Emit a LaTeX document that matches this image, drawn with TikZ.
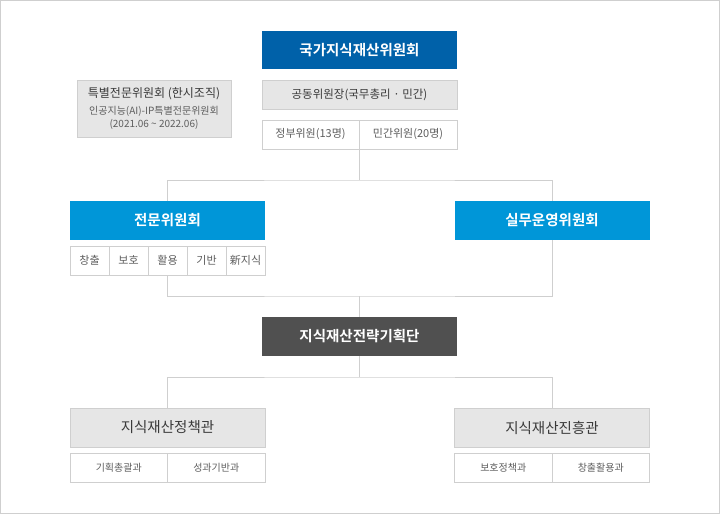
\documentclass[tikz,border=0pt]{standalone}
\usepackage{fontspec}
\setmainfont{Noto Sans CJK KR}[BoldFont={Noto Sans CJK KR Bold}]
\usetikzlibrary{positioning}
\definecolor{navy}{HTML}{0061A9}
\definecolor{sky}{HTML}{0096D8}
\definecolor{dgray}{HTML}{505050}
\definecolor{pale}{HTML}{E6E6E6}
\definecolor{rule}{HTML}{CFCFCF}
\definecolor{ink}{HTML}{3A3A3A}
\definecolor{soft}{HTML}{5E5E5E}

\begin{document}
\begin{tikzpicture}[x=1pt,y=-1pt,
    head/.style={rectangle,minimum width=195pt,minimum height=39pt,inner sep=0pt,outer sep=0pt,text=white,font=\bfseries\fontsize{14.5}{16}\selectfont},
    panel/.style={head,fill=pale,draw=rule,text=ink,font=\fontsize{14.5}{16}\selectfont},
    cell/.style={rectangle,draw=rule,fill=white,minimum height=29pt,inner sep=0pt,outer sep=0pt,text=soft,font=\fontsize{11}{12}\selectfont},
    link/.style={draw=rule,line width=0.8pt}]
  \useasboundingbox (0,0) rectangle (720,514);
  \draw[rule,line width=0.9pt] (0.5,0.5) rectangle (719.5,513.5);

  %top
  \node[head,fill=navy,minimum height=38pt] (nkc) at (359.5,50) {국가지식재산위원회};
  \node[panel,minimum height=29pt,font=\fontsize{11.5}{13}\selectfont] (chair) at (359.5,95) {공동위원장(국무총리 · 민간)};
  \node[cell,minimum width=97pt] (gov) at (310.5,134.5) {정부위원(13명)};
  \node[cell,minimum width=98pt,right=0pt of gov] (civ) {민간위원(20명)};
  \node[panel,minimum width=154pt,minimum height=57pt,align=center,text=soft,font=\fontsize{10}{13}\selectfont] (tf) at (154,108.5)
    {{\color{ink}\fontsize{12}{13}\selectfont 특별전문위원회 (한시조직)}\\[4pt]인공지능(AI)-IP특별전문위원회\\(2021.06 \textasciitilde{} 2022.06)};

  %committees
  \node[head,fill=sky] (expert) at (167.5,220.5) {전문위원회};
  \node[head,fill=sky] (work) at (552,220.5) {실무운영위원회};
  \node[cell,minimum width=39pt] (c1) at (89.5,260.5) {창출};
  \node[cell,minimum width=39pt,right=0pt of c1] (c2) {보호};
  \node[cell,minimum width=39pt,right=0pt of c2] (c3) {활용};
  \node[cell,minimum width=39pt,right=0pt of c3] (c4) {기반};
  \node[cell,minimum width=39pt,right=0pt of c4] (c5) {新지식};

  %bottom
  \node[head,fill=dgray] (plan) at (359.5,336.5) {지식재산전략기획단};
  \node[panel] (policy) at (167.5,427.5) {지식재산정책관};
  \node[panel] (promo) at (552,427.5) {지식재산진흥관};
  \node[cell,minimum width=97.5pt,font=\fontsize{10}{11}\selectfont] (p1) at (118.75,467.5) {기획총괄과};
  \node[cell,minimum width=97.5pt,font=\fontsize{10}{11}\selectfont,right=0pt of p1] (p2) {성과기반과};
  \node[cell,minimum width=97.5pt,font=\fontsize{10}{11}\selectfont] (q1) at (503.25,467.5) {보호정책과};
  \node[cell,minimum width=97.5pt,font=\fontsize{10}{11}\selectfont,right=0pt of q1] (q2) {창출활용과};

  \coordinate (j1) at (359,180);
  \coordinate (j2) at (359.5,296);
  \coordinate (j3) at (359.5,377);
  \draw[link] (gov.south east) -- (j1);
  \draw[link] (expert.north) |- (j1) -| (work.north);
  \draw[link] (c3.south) |- (j2) -| (work.south);
  \draw[link] (j2) -- (plan.north);
  \draw[link] (plan.south) -- (j3);
  \draw[link] (policy.north) |- (j3) -| (promo.north);
\end{tikzpicture}
\end{document}
